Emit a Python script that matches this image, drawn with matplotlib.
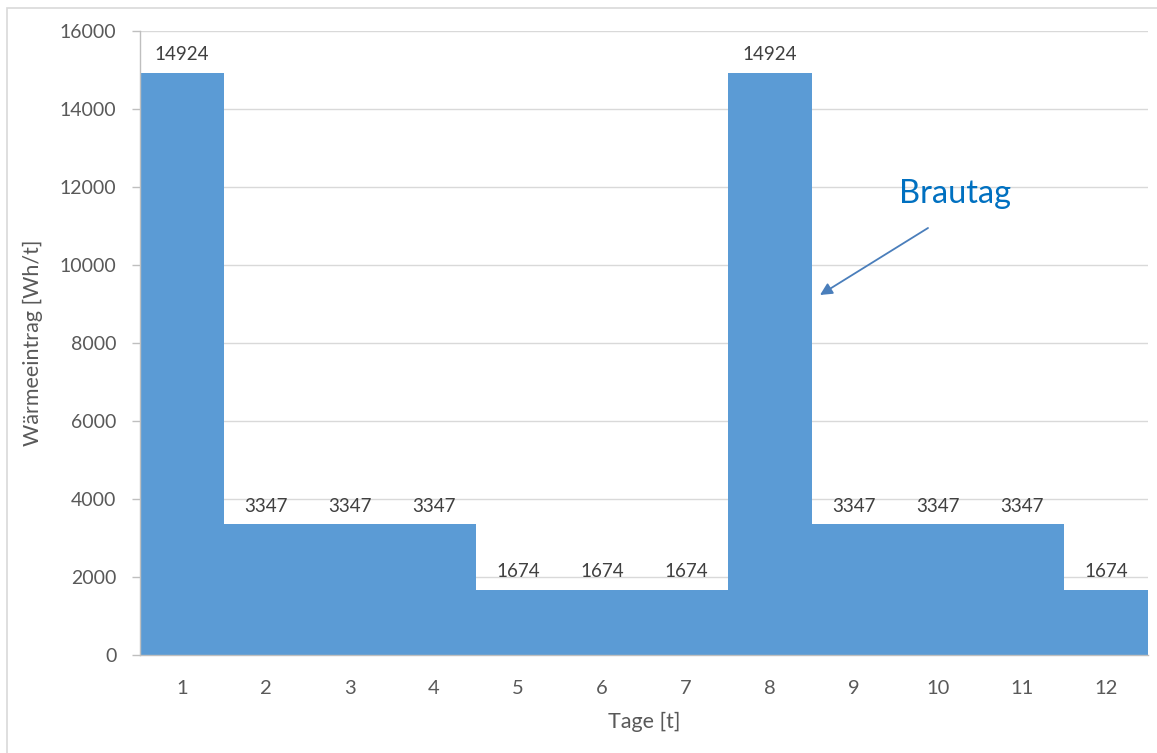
import matplotlib
matplotlib.use("Agg")
import matplotlib.pyplot as plt
from matplotlib.patches import Rectangle

plt.rcParams['font.family'] = ['Lato', 'DejaVu Sans']

days = [1, 2, 3, 4, 5, 6, 7, 8, 9, 10, 11, 12]
heat = [14924, 3347, 3347, 3347, 1674, 1674, 1674, 14924, 3347, 3347, 3347, 1674]
y_ticks = [0, 2000, 4000, 6000, 8000, 10000, 12000, 14000, 16000]

bar_color = '#5B9BD5'
text_gray = '#595959'
label_gray = '#404040'
grid_gray = '#D9D9D9'

fig = plt.figure(figsize=(11.57, 7.53), dpi=100)
fig.patches.append(Rectangle((7 / 1157, -0.1), 1.2, 1 - 8 / 753 + 0.1,
                             transform=fig.transFigure, fill=False,
                             edgecolor='#D9D9D9', linewidth=1.2))
ax = fig.add_axes([140 / 1157, 1 - 655 / 753, 1008 / 1157, 624 / 753])

ax.bar(days, heat, width=1.0, color=bar_color, edgecolor='none', zorder=2)
for d, v in zip(days, heat):
    ax.annotate(str(v), (d, v), xytext=(0, 7), textcoords='offset points',
                ha='center', va='bottom', fontsize=13.5, color=label_gray)

ax.set_xlim(0.5, 12.5)
ax.set_ylim(0, 16000)
ax.set_xticks(days)
ax.set_xticklabels([str(d) for d in days])
ax.set_yticks(y_ticks)
ax.set_yticklabels([str(t) for t in y_ticks])
ax.tick_params(axis='x', length=0, pad=18, labelsize=14.5, labelcolor=text_gray)
ax.tick_params(axis='y', length=6, width=1, color='#BFBFBF', pad=11,
               labelsize=14, labelcolor=text_gray)
ax.grid(axis='y', color=grid_gray, linewidth=1, zorder=0)
ax.set_axisbelow(True)
for side in ('top', 'right'):
    ax.spines[side].set_visible(False)
for side in ('left', 'bottom'):
    ax.spines[side].set_color('#BFBFBF')
    ax.spines[side].set_linewidth(1)

ax.set_xlabel('Tage [t]', fontsize=15.5, color=text_gray, labelpad=11)
ax.set_ylabel('Wärmeeintrag [Wh/t]', fontsize=15.5, color=text_gray, labelpad=12)

ax.text(10.2, 11820, 'Brautag', ha='center', va='center', fontsize=23.5,
        color='#0070C0')
ax.annotate('', xy=(8.595, 9231), xytext=(9.881, 10949),
            arrowprops=dict(arrowstyle='-|>', color='#4A7EBB', lw=1.3,
                            mutation_scale=18, shrinkA=0, shrinkB=0))

fig.savefig('out.png', dpi=100, facecolor='white')
